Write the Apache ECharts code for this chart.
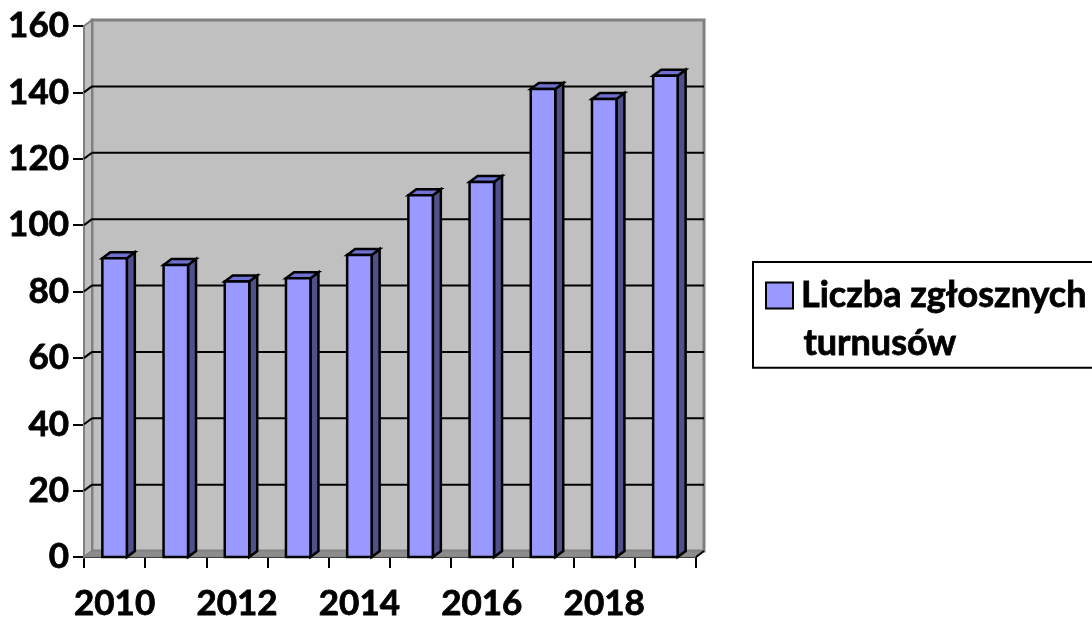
<!DOCTYPE html>
<html>
<head>
<meta charset="utf-8">
<title>Liczba zgłosznych turnusów</title>
<script src="https://cdn.jsdelivr.net/npm/echarts@6/dist/echarts.min.js"></script>
<style>
html, body { margin: 0; padding: 0; background: #fff; }
#chart { width: 1092px; height: 617px; }
</style>
</head>
<body>
<div id="chart"></div>
<script>
const years = ['2010', '2011', '2012', '2013', '2014', '2015', '2016', '2017', '2018', '2019']
const turnusy = [90, 88, 83, 84, 91, 109, 113, 141, 138, 145]
const gridValues = [20, 40, 60, 80, 100, 120, 140]
const seriesName = 'Liczba zgłosznych'
const secondLine = 'turnusów'

// fake 3D depth, in px
const depthX = 8
const depthY = 6
const fontName = 'Lato'

const chart = echarts.init(document.getElementById('chart'))

function polygon(points, fill, stroke, width) {
  return {
    type: 'polygon',
    shape: { points: points },
    style: { fill: fill, stroke: stroke, lineWidth: width, lineJoin: 'miter' }
  }
}

function line(x1, y1, x2, y2, color, width) {
  return {
    type: 'line',
    shape: { x1: x1, y1: y1, x2: x2, y2: y2 },
    style: { stroke: color, lineWidth: width }
  }
}

function renderWalls(params, api) {
  const band = api.size([1, 0])[0]
  const left = api.coord([0, 0])[0] - band / 2
  const right = api.coord([years.length - 1, 0])[0] + band / 2
  const bottom = api.coord([0, 0])[1]
  const top = api.coord([0, 160])[1]
  return {
    type: 'group',
    children: [
      polygon([[left + depthX, top - depthY], [right + depthX, top - depthY], [right + depthX, bottom - depthY], [left + depthX, bottom - depthY]], '#c0c0c0', '#808080', 3),
      polygon([[left, top], [left + depthX, top - depthY], [left + depthX, bottom - depthY], [left, bottom]], '#c0c0c0', '#808080', 2),
      polygon([[left, bottom], [left + depthX, bottom - depthY], [right + depthX, bottom - depthY], [right, bottom]], '#8c8c8c', '#808080', 1),
      line(right, bottom, right + depthX, bottom - depthY, '#000', 2)
    ]
  }
}

function renderGridLine(params, api) {
  const band = api.size([1, 0])[0]
  const value = api.value(1)
  const left = api.coord([0, value])[0] - band / 2
  const right = api.coord([years.length - 1, value])[0] + band / 2
  const y = api.coord([0, value])[1]
  return {
    type: 'group',
    children: [
      line(left, y, left + depthX, y - depthY, '#000', 2),
      line(left + depthX, y - depthY, right + depthX, y - depthY, '#000', 2)
    ]
  }
}

function renderBar(params, api) {
  const p = api.coord([api.value(0), api.value(1)])
  const base = api.coord([api.value(0), 0])
  const w = api.size([1, 0])[0] * 0.4
  const x0 = p[0] - w / 2
  const x1 = p[0] + w / 2
  return {
    type: 'group',
    children: [
      polygon([[x1, p[1]], [x1 + depthX, p[1] - depthY], [x1 + depthX, base[1] - depthY], [x1, base[1]]], '#50508a', '#000', 2.5),
      polygon([[x0, p[1]], [x0 + depthX, p[1] - depthY], [x1 + depthX, p[1] - depthY], [x1, p[1]]], '#7070d0', '#000', 2.5),
      polygon([[x0, p[1]], [x1, p[1]], [x1, base[1]], [x0, base[1]]], '#9999ff', '#000', 2.5)
    ]
  }
}

const option = {
  animation: false,
  textStyle: { fontFamily: fontName },
  grid: { left: 84, right: 396, top: 26, bottom: 60, outerBoundsMode: 'none' },
  legend: {
    data: [seriesName],
    left: 753,
    top: 262,
    padding: [15, 24, 54, 12],
    borderColor: '#000',
    borderWidth: 2,
    itemWidth: 27,
    itemHeight: 26,
    itemGap: 0,
    icon: 'rect',
    itemStyle: { color: '#9999ff', borderColor: '#000', borderWidth: 2 },
    textStyle: { color: '#000', fontSize: 36, fontWeight: 'bold', fontFamily: fontName, padding: [0, 0, 0, 3], textBorderColor: '#000', textBorderWidth: 0.8 },
    selectedMode: false
  },
  xAxis: {
    type: 'category',
    data: years,
    axisLine: { onZero: false, lineStyle: { color: '#000', width: 2 } },
    axisTick: { show: true, interval: 0, length: 11, lineStyle: { color: '#000', width: 2 } },
    axisLabel: {
      interval: 1,
      margin: 29,
      color: '#000',
      fontSize: 35,
      fontWeight: 'bold',
      fontFamily: fontName,
      textBorderColor: '#000',
      textBorderWidth: 0.8
    },
    splitLine: { show: false }
  },
  yAxis: {
    type: 'value',
    min: 0,
    max: 160,
    interval: 20,
    axisLine: { show: true, lineStyle: { color: '#000', width: 2 } },
    axisTick: { show: true, length: 11, lineStyle: { color: '#000', width: 2 } },
    axisLabel: {
      margin: 15,
      color: '#000',
      fontSize: 35,
      fontWeight: 'bold',
      fontFamily: fontName,
      textBorderColor: '#000',
      textBorderWidth: 0.8
    },
    splitLine: { show: false }
  },
  graphic: [
    {
      type: 'text',
      left: 803,
      top: 325,
      style: { text: secondLine, fill: '#000', fontSize: 36, fontWeight: 'bold', fontFamily: fontName, stroke: '#000', lineWidth: 0.8 }
    }
  ],
  series: [
    {
      name: 'walls',
      type: 'custom',
      renderItem: renderWalls,
      data: [[0, 0]],
      silent: true,
      z: 1
    },
    {
      name: 'grid',
      type: 'custom',
      renderItem: renderGridLine,
      data: gridValues.map(v => [0, v]),
      silent: true,
      z: 2
    },
    {
      name: seriesName,
      type: 'custom',
      renderItem: renderBar,
      itemStyle: { color: '#9999ff' },
      data: turnusy.map((v, i) => [i, v]),
      z: 3
    }
  ]
}

chart.setOption(option)
window.addEventListener('resize', () => chart.resize())
</script>
</body>
</html>
